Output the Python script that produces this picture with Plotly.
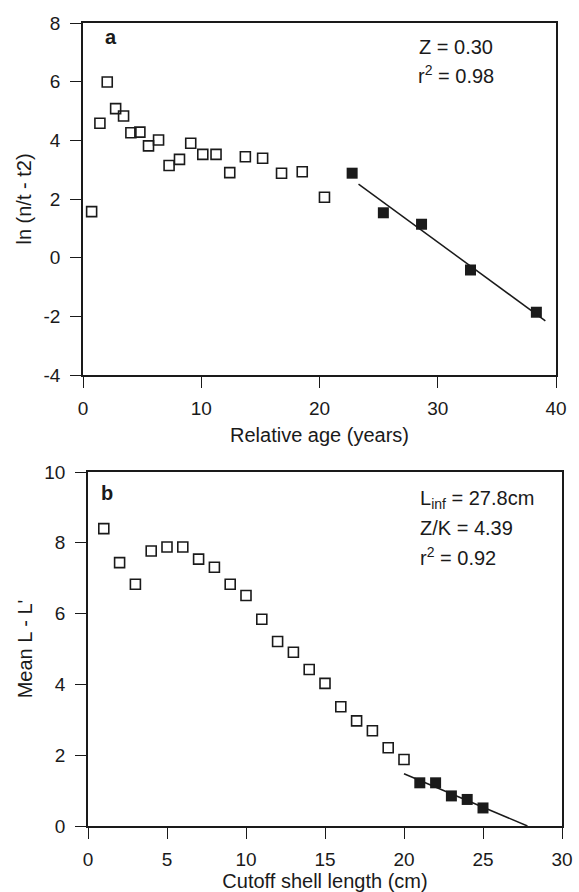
import numpy as np
import plotly.graph_objects as go

# ---- Panel a data ----
age_open = [0.73, 1.43, 2.05, 2.76, 3.43, 4.05, 4.81, 5.54, 6.39, 7.28, 8.16, 9.11,
            10.13, 11.25, 12.41, 13.73, 15.19, 16.79, 18.54, 20.42]
ln_open = [1.57, 4.58, 5.99, 5.08, 4.83, 4.26, 4.28, 3.81, 4.01, 3.14, 3.35, 3.90,
           3.52, 3.52, 2.90, 3.44, 3.39, 2.88, 2.93, 2.06]
age_fill = [22.76, 25.40, 28.63, 32.77, 38.34]
ln_fill = [2.88, 1.53, 1.14, -0.42, -1.86]
age_fit_range = [23.3, 39.1]

# ---- Panel b data ----
cut_open = list(range(1, 21))
mean_open = [8.40, 7.44, 6.83, 7.77, 7.88, 7.88, 7.54, 7.31, 6.83, 6.51, 5.84, 5.21,
             4.91, 4.42, 4.03, 3.37, 2.97, 2.69, 2.21, 1.88]
cut_fill = [21, 22, 23, 24, 25]
mean_fill = [1.22, 1.22, 0.85, 0.75, 0.51]
cut_fit_start = 20.0

xa_ticks = [0, 10, 20, 30, 40]
ya_ticks = [-4, -2, 0, 2, 4, 6, 8]
ya_labels = ["-4", "-2", "0", "2", "4", "6", "8"]
xb_ticks = [0, 5, 10, 15, 20, 25, 30]
yb_ticks = [0, 2, 4, 6, 8, 10]

# fits
pa = np.polyfit(age_fill, ln_fill, 1)
xa_line = np.array(age_fit_range)
ya_line = np.polyval(pa, xa_line)
pb = np.polyfit(cut_fill, mean_fill, 1)
linf = -pb[1] / pb[0]
xb_line = np.array([cut_fit_start, linf])
yb_line = np.polyval(pb, xb_line)

W, H = 579, 892
INK = "#1a1a1a"
FONT = "Liberation Sans, Arial, sans-serif"

fig = go.Figure()
open_marker = dict(symbol="square-open", size=10, color=INK, line=dict(width=1.6, color=INK))
fill_marker = dict(symbol="square", size=11, color=INK)

fig.add_trace(go.Scatter(x=age_open, y=ln_open, mode="markers", marker=open_marker,
                         xaxis="x", yaxis="y", showlegend=False))
fig.add_trace(go.Scatter(x=age_fill, y=ln_fill, mode="markers", marker=fill_marker,
                         xaxis="x", yaxis="y", showlegend=False))
fig.add_trace(go.Scatter(x=xa_line, y=ya_line, mode="lines", line=dict(color=INK, width=1.5),
                         xaxis="x", yaxis="y", showlegend=False))

fig.add_trace(go.Scatter(x=cut_open, y=mean_open, mode="markers", marker=open_marker,
                         xaxis="x2", yaxis="y2", showlegend=False))
fig.add_trace(go.Scatter(x=cut_fill, y=mean_fill, mode="markers", marker=fill_marker,
                         xaxis="x2", yaxis="y2", showlegend=False))
fig.add_trace(go.Scatter(x=xb_line, y=yb_line, mode="lines", line=dict(color=INK, width=1.5),
                         xaxis="x2", yaxis="y2", showlegend=False))


def px_x(p):
    return p / W


def px_y(p):
    return 1 - p / H


axis_common = dict(
    showline=True, linecolor=INK, linewidth=1.6, mirror=True,
    ticks="outside", ticklen=11, tickwidth=1.4, tickcolor=INK,
    showgrid=False, zeroline=False,
    tickfont=dict(family=FONT, size=19, color=INK),
    title_font=dict(family=FONT, size=20, color=INK),
    automargin=False,
)

fig.update_layout(
    width=W, height=H,
    margin=dict(l=0, r=0, t=0, b=0),
    paper_bgcolor="white", plot_bgcolor="white",
    font=dict(family=FONT, color=INK),
    xaxis=dict(axis_common, domain=[px_x(83), px_x(556)], range=[0, 40], tickvals=xa_ticks,
               anchor="y", title=dict(text="Relative age (years)", standoff=10),
               ticklabelstandoff=4),
    yaxis=dict(axis_common, domain=[px_y(375), px_y(23)], range=[-4, 8], tickvals=ya_ticks,
               ticktext=ya_labels,
               anchor="x", title=dict(text="ln (n/t - t2)", standoff=6),
               ticklabelstandoff=6),
    xaxis2=dict(axis_common, domain=[px_x(88), px_x(562)], range=[0, 30], tickvals=xb_ticks,
                anchor="y2", title=dict(text="Cutoff shell length (cm)", standoff=2),
                ticklabelstandoff=4),
    yaxis2=dict(axis_common, domain=[px_y(826), px_y(472)], range=[0, 10], tickvals=yb_ticks,
                anchor="x2", title=dict(text="Mean L - L'", standoff=6),
                ticklabelstandoff=6),
)

ann_font = dict(family=FONT, size=20, color=INK)
annotations = [
    dict(text="<b>a</b>", x=px_x(103), y=px_y(37), xanchor="left", yanchor="middle"),
    dict(text="Z = 0.30", x=px_x(417), y=px_y(47), xanchor="left", yanchor="middle"),
    dict(text="r<sup>2</sup> = 0.98", x=px_x(416), y=px_y(75), xanchor="left", yanchor="middle"),
    dict(text="<b>b</b>", x=px_x(99), y=px_y(493), xanchor="left", yanchor="middle"),
    dict(text="L<sub>inf</sub> = 27.8cm", x=px_x(418), y=px_y(500), xanchor="left", yanchor="middle"),
    dict(text="Z/K = 4.39", x=px_x(418), y=px_y(528), xanchor="left", yanchor="middle"),
    dict(text="r<sup>2</sup> = 0.92", x=px_x(418), y=px_y(556), xanchor="left", yanchor="middle"),
]
for a in annotations:
    fig.add_annotation(xref="paper", yref="paper", showarrow=False, font=ann_font, **a)

fig.write_html("out.html", config={"displayModeBar": False},
               post_script="document.body.style.margin='0';document.body.style.padding='0';")
